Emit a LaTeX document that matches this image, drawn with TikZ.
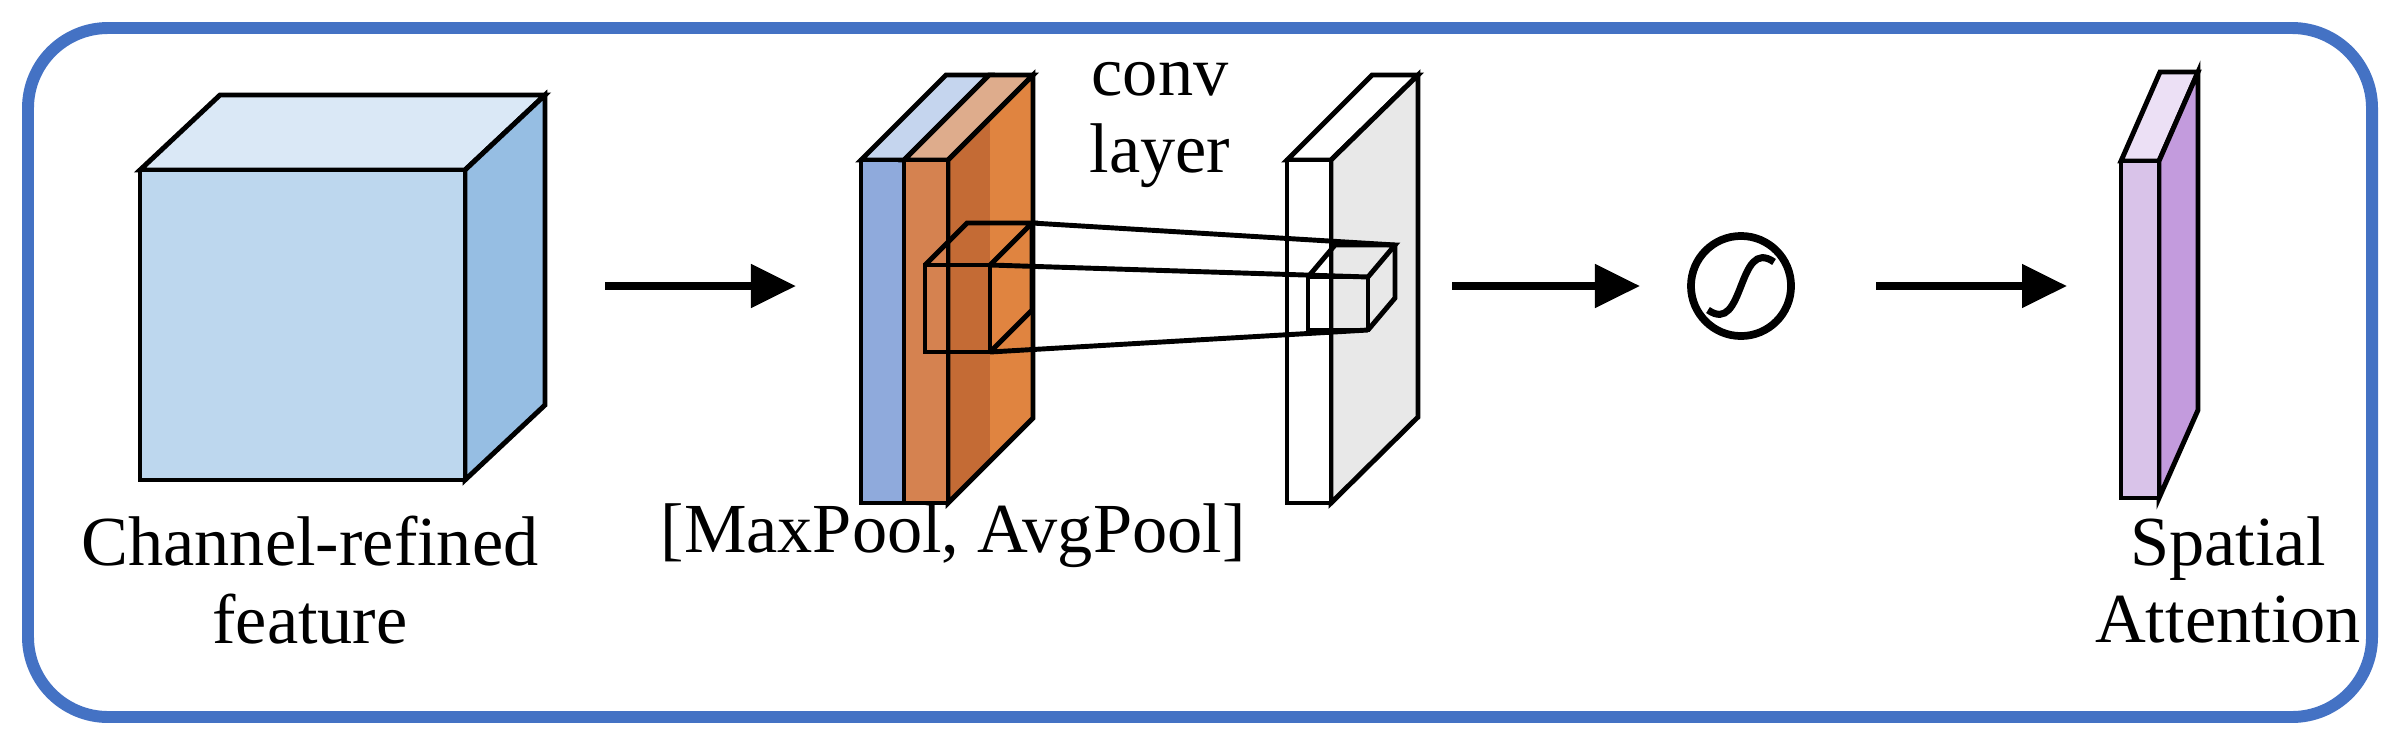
\documentclass[tikz,border=0pt]{standalone}
\usepackage{fontspec}
\setmainfont{Liberation Serif}
\usetikzlibrary{arrows.meta}
\definecolor{bord}{HTML}{4472C4}
\begin{document}
\begin{tikzpicture}[x=0.01cm,y=-0.01cm,
  edge/.style={line width=1.4pt,line join=miter},
  arr/.style={line width=2.3pt,-{Triangle[length=0.45cm,width=0.42cm]}},
  lbl/.style={font=\fontsize{20}{22}\selectfont,align=center,inner sep=0pt}]
\useasboundingbox (0,0) rectangle (2400,745);
\draw[bord,line width=3.4pt,rounded corners=0.8cm] (28,28) rectangle (2372,717);
% cube
\filldraw[edge,fill={rgb,255:red,218;green,232;blue,246}] (140,170)--(220,95)--(545,95)--(465,170)--cycle;
\filldraw[edge,fill={rgb,255:red,150;green,190;blue,227}] (465,170)--(545,95)--(545,405)--(465,480)--cycle;
\filldraw[edge,fill={rgb,255:red,189;green,215;blue,238}] (140,170) rectangle (465,480);
\node[lbl] (t1) at (310,580) {Channel-refined\\feature};
% blue slab
\filldraw[edge,fill={rgb,255:red,197;green,213;blue,238}] (861,160)--(946,75)--(989,75)--(904,160)--cycle;
\filldraw[edge,fill={rgb,255:red,143;green,170;blue,220}] (861,160) rectangle (904,503);
% orange slab
\filldraw[edge,fill={rgb,255:red,222;green,172;blue,140}] (904,160)--(989,75)--(1033,75)--(948,160)--cycle;
\fill[fill={rgb,255:red,196;green,107;blue,53}] (948,160)--(1033,75)--(1033,418)--(948,503)--cycle;
\fill[fill={rgb,255:red,224;green,132;blue,64}] (990,118)--(1033,75)--(1033,418)--(990,461)--cycle;
\draw[edge] (948,160)--(1033,75)--(1033,418)--(948,503)--cycle;
\filldraw[edge,fill={rgb,255:red,213;green,130;blue,80}] (904,160) rectangle (948,503);
% white slab
\filldraw[edge,fill=white] (1287,160)--(1372,75)--(1418,75)--(1331,160)--cycle;
\filldraw[edge,fill={rgb,255:red,232;green,232;blue,232}] (1331,160)--(1418,75)--(1418,417)--(1331,503)--cycle;
\filldraw[edge,fill=white] (1287,160) rectangle (1331,503);
% small cube on orange
\draw[edge] (925,265)--(967,223)--(1032,223)--(990,265);
\draw[edge] (1032,223)--(1032,310)--(990,352);
\draw[edge] (925,265) rectangle (990,352);
% small cube on white
\draw[edge] (1308,277)--(1335,245)--(1395,245)--(1368,277);
\draw[edge] (1395,245)--(1395,298)--(1368,330);
\draw[edge] (1308,277) rectangle (1368,330);
% connecting lines
\draw[edge] (1032,223)--(1395,245);
\draw[edge] (990,265)--(1368,277);
\draw[edge] (990,352)--(1368,330);
\node[lbl] (conv) at (1160,125) {conv\\layer};
\node[lbl] (pool) at (953,536) {[MaxPool, AvgPool]};
% sigmoid
\node[circle,draw,line width=2.2pt,minimum size=1.0cm,inner sep=0pt] (sig) at (1741,286) {};
\draw[line width=2pt] (1708,310) .. controls (1745,336) and (1737,236) .. (1774,262);
% purple slab
\filldraw[edge,fill={rgb,255:red,236;green,224;blue,245}] (2121,161)--(2160,72)--(2198,72)--(2159,161)--cycle;
\filldraw[edge,fill={rgb,255:red,195;green,155;blue,221}] (2159,161)--(2198,72)--(2198,410)--(2159,498)--cycle;
\filldraw[edge,fill={rgb,255:red,217;green,195;blue,233}] (2121,161) rectangle (2159,498);
\node[lbl] (sa) at (2228,580) {Spatial\\Attention};
% arrows
\coordinate (a1s) at (605,286); \coordinate (a1e) at (796,286);
\coordinate (a2s) at (1452,286); \coordinate (a2e) at (1640,286);
\coordinate (a3s) at (1876,286); \coordinate (a3e) at (2067,286);
\draw[arr] (a1s)--(a1e);
\draw[arr] (a2s)--(a2e);
\draw[arr] (a3s)--(a3e);
\end{tikzpicture}
\end{document}
